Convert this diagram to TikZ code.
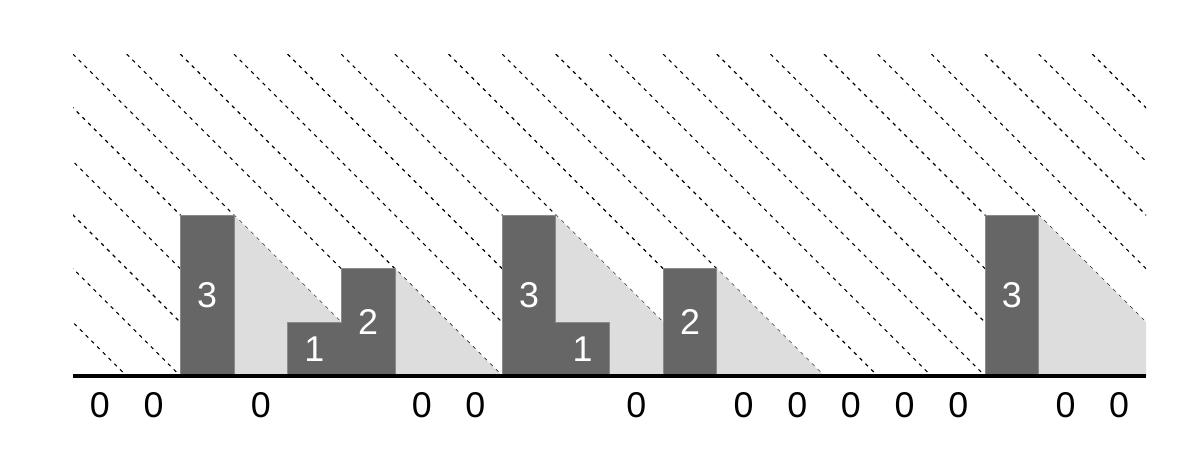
\documentclass[tikz,border=0pt]{standalone}
\usepackage{fontspec}
\setmainfont{Liberation Sans}
\definecolor{barfill}{HTML}{666666}
\definecolor{baredge}{HTML}{8A8A8A}
\definecolor{shadefill}{HTML}{DDDDDD}
\tikzset{
  hatchline/.style={black, line width=0.6pt, dash pattern=on 1.9pt off 2.4pt},
  shadow/.style={fill=shadefill, draw=none},
  barbox/.style={fill=barfill, draw=baredge, line width=0.4pt},
  barlabel/.style={text=white, font=\fontsize{19}{22}\selectfont, inner sep=0pt},
  zerolabel/.style={text=black, font=\fontsize{19}{22}\selectfont, inner sep=0pt},
  groundline/.style={black, line width=2.6pt}
}
\begin{document}
\begin{tikzpicture}[x=1cm,y=1cm]
\useasboundingbox (-1.361,-1.379) rectangle (20.969,7.008);
% diagonal dashed hatching
\begin{scope}
  \clip (0,0) rectangle (20,6);
  \foreach \c in {1,...,25} {
    \draw[hatchline] (\c-6,6) -- (\c,0);
  }
\end{scope}
% light shadows
\fill[shadow] (3,3) -- (3,0) -- (6,0) -- cycle;
\fill[shadow] (6,2) -- (6,0) -- (8,0) -- cycle;
\fill[shadow] (9,3) -- (9,0) -- (12,0) -- cycle;
\fill[shadow] (12,2) -- (12,0) -- (14,0) -- cycle;
\fill[shadow] (18,3) -- (18,0) -- (20,0) -- (20,1) -- cycle;
% bars
\draw[barbox] (2,0) rectangle (3,3);
\draw[barbox] (4,0) -- (4,1) -- (5,1) -- (5,2) -- (6,2) -- (6,0) -- cycle;
\draw[barbox] (8,0) -- (8,3) -- (9,3) -- (9,1) -- (10,1) -- (10,0) -- cycle;
\draw[barbox] (11,0) rectangle (12,2);
\draw[barbox] (17,0) rectangle (18,3);
\foreach \x/\h in {2/3, 4/1, 5/2, 8/3, 9/1, 11/2, 17/3} {
  \node[barlabel] (b\x) at (\x+0.5,\h/2) {\h};
}
% ground
\draw[groundline] (0,0) -- (20,0);
% zero labels
\foreach \x in {0,1,3,6,7,10,12,13,14,15,16,18,19} {
  \node[zerolabel] (z\x) at (\x+0.5,-0.55) {0};
}
\end{tikzpicture}
\end{document}
